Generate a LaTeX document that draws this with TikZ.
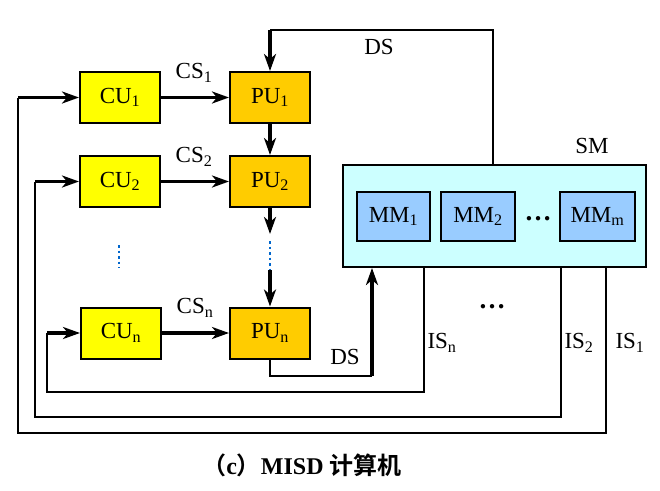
\documentclass[tikz,border=0pt]{standalone}
\usepackage{fontspec}
\setmainfont{Liberation Serif}
\newfontfamily\cjk{Noto Sans CJK SC}[BoldFont={Noto Sans CJK SC Bold}]
\usetikzlibrary{arrows.meta}
\definecolor{cuyellow}{RGB}{255,255,0}
\definecolor{puorange}{RGB}{255,204,0}
\definecolor{smcyan}{RGB}{204,255,255}
\definecolor{mmblue}{RGB}{153,204,255}
\definecolor{dotblue}{RGB}{0,102,204}
\tikzset{
  unit/.style={draw=black, line width=2pt, minimum width=80pt, minimum height=51pt, inner sep=0pt, font=\fontsize{23}{25}\selectfont},
  cubox/.style={unit, fill=cuyellow},
  pubox/.style={unit, fill=puorange},
  mmbox/.style={draw=black, line width=1.8pt, fill=mmblue, minimum height=49pt, inner sep=0pt, font=\fontsize{23}{25}\selectfont},
  smbox/.style={draw=black, line width=2pt, fill=smcyan, minimum width=303pt, minimum height=102pt, inner sep=0pt},
  lbl/.style={font=\fontsize{23}{25}\selectfont, inner sep=0pt},
  dotlbl/.style={font=\fontsize{27}{29}\selectfont\bfseries, inner sep=0pt, anchor=base},
  thin/.style={line width=1.8pt},
  thickarrow/.style={line width=3.6pt, -{Stealth[length=17pt,width=12pt,inset=5pt]}},
  vdots/.style={draw=dotblue, line width=1.2pt, dash pattern=on 2.5pt off 3pt},
}
\begin{document}
\begin{tikzpicture}[x=1pt,y=-1pt]
\useasboundingbox (0,0) rectangle (660,490);
% SM
\node[smbox] (sm) at (494.5,216) {};
\node[lbl] (smlbl) at (592,146) {SM};
\node[mmbox, minimum width=73pt] (mm1) at (393.5,216.5) {MM\textsubscript{1}};
\node[mmbox, minimum width=74pt] (mm2) at (478,216.5) {MM\textsubscript{2}};
\node[mmbox, minimum width=75pt] (mmm) at (597.5,216.5) {MM\textsubscript{m}};
\node[dotlbl] (mmdots) at (538,220) {…};
% CU / PU
\node[cubox] (cu1) at (120,97.5) {CU\textsubscript{1}};
\node[pubox] (pu1) at (270,97.5) {PU\textsubscript{1}};
\node[cubox] (cu2) at (120,181.5) {CU\textsubscript{2}};
\node[pubox] (pu2) at (270,181.5) {PU\textsubscript{2}};
\node[cubox] (cun) at (121,333) {CU\textsubscript{n}};
\node[pubox] (pun) at (270,333) {PU\textsubscript{n}};
% labels
\node[lbl] (cs1) at (194,73) {CS\textsubscript{1}};
\node[lbl] (cs2) at (194,157) {CS\textsubscript{2}};
\node[lbl] (csn) at (195,308) {CS\textsubscript{n}};
\node[lbl] (dstop) at (379,47) {DS};
\node[lbl] (dsbot) at (345,357) {DS};
\node[lbl] (isn) at (442,343) {IS\textsubscript{n}};
\node[lbl] (is2) at (579,343) {IS\textsubscript{2}};
\node[lbl] (is1) at (630,343) {IS\textsubscript{1}};
\node[dotlbl] (middots) at (492,308) {…};
% CU -> PU
\draw[thickarrow] (cu1) -- (pu1);
\draw[thickarrow] (cu2) -- (pu2);
\draw[thickarrow] (cun) -- (pun);
\draw[thickarrow] (pu1) -- (pu2);
% PU2 .. PUn
\coordinate (pmid1) at (270,234);
\coordinate (pmid2) at (270,241);
\coordinate (pmid3) at (270,270);
\draw[thickarrow] (pu2.south) -- (pmid1);
\draw[vdots] (pmid2) -- (pmid3);
\draw[thickarrow] (pmid3) -- (pun.north);
\coordinate (cdot1) at (119,245);
\coordinate (cdot2) at (119,268);
\draw[vdots] (cdot1) -- (cdot2);
% DS top
\coordinate (dsa) at (493,30);
\coordinate (dsb) at (270,30);
\draw[thin] (sm.north -| dsa) -- (dsa) -- (dsb);
\draw[thickarrow] (dsb) -- (pu1.north);
% DS bottom
\coordinate (dbc) at (270,376);
\coordinate (dbd) at (372,376);
\draw[thin] (pun.south) -- (dbc) -- (dbd);
\draw[thickarrow] (dbd) -- (sm.south -| dbd);
% IS1
\coordinate (i1a) at (606,433);
\coordinate (i1b) at (18,433);
\coordinate (i1c) at (18,97.5);
\draw[thin] (sm.south -| i1a) -- (i1a) -- (i1b) -- (i1c);
\draw[thickarrow] (i1c) -- (cu1.west);
% IS2
\coordinate (i2a) at (561,417);
\coordinate (i2b) at (35,417);
\coordinate (i2c) at (35,181.5);
\draw[thin] (sm.south -| i2a) -- (i2a) -- (i2b) -- (i2c);
\draw[thickarrow] (i2c) -- (cu2.west);
% ISn
\coordinate (ina) at (424,392);
\coordinate (inb) at (47,392);
\coordinate (inc) at (47,333);
\draw[thin] (sm.south -| ina) -- (ina) -- (inb) -- (inc);
\draw[thickarrow] (inc) -- (cun.west);
% caption
\node[lbl, font=\fontsize{24}{26}\selectfont\bfseries] (cap) at (302,465) {{\cjk （}c{\cjk ）}MISD {\cjk 计算机}};
\end{tikzpicture}
\end{document}
